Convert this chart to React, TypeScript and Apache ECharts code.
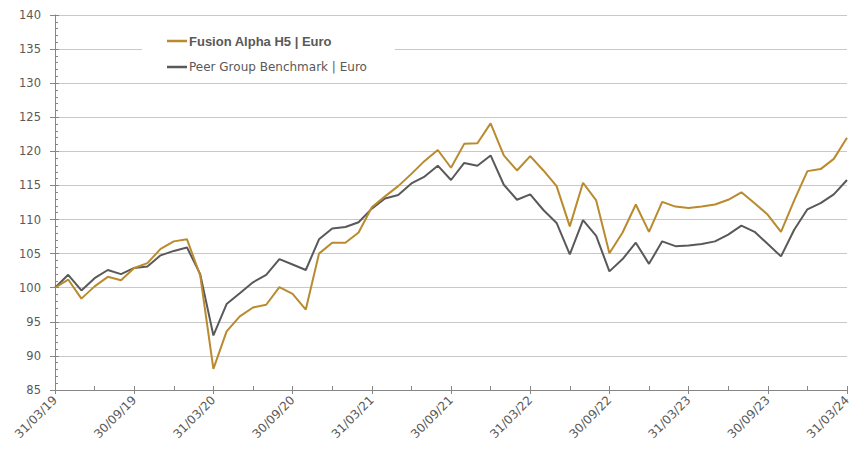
import React, { useEffect, useRef } from "react";
import * as echarts from "echarts";

// Month-end dates 31/03/19 .. 31/03/24
const startYear = 2019;
const startMonth = 2; // March (0-based)
const dates: string[] = [];
for (let k = 0; k <= 60; k++) {
  const y = startYear + Math.floor((startMonth + k) / 12);
  const m = (startMonth + k) % 12;
  const last = new Date(Date.UTC(y, m + 1, 0)).getUTCDate();
  dates.push(
    String(last).padStart(2, "0") + "/" + String(m + 1).padStart(2, "0") + "/" + String(y % 100).padStart(2, "0")
  );
}

const fusionName = "Fusion Alpha H5 | Euro";
const peerName = "Peer Group Benchmark | Euro";

const fusion: number[] = [
  100.0, 101.2, 98.4, 100.2, 101.6, 101.1, 102.9, 103.6, 105.7, 106.8, 107.1, 101.8,
  88.1, 93.6, 95.8, 97.1, 97.5, 100.1, 99.1, 96.8, 105.0, 106.6, 106.6, 108.1,
  111.8, 113.4, 114.9, 116.7, 118.6, 120.2, 117.6, 121.1, 121.2, 124.1, 119.4, 117.2,
  119.3, 117.2, 114.9, 109.0, 115.4, 112.8, 105.05, 108.1, 112.2, 108.2, 112.6, 111.9,
  111.7, 111.9, 112.2, 112.9, 114.0, 112.4, 110.7, 108.2, 112.8, 117.1, 117.4, 118.9, 122.0,
];

const peer: number[] = [
  100.0, 101.9, 99.6, 101.4, 102.6, 102.0, 102.9, 103.1, 104.75, 105.4, 105.9, 102.0,
  93.0, 97.6, 99.2, 100.8, 101.9, 104.2, 103.4, 102.6, 107.1, 108.7, 108.9, 109.6,
  111.6, 113.1, 113.6, 115.3, 116.3, 117.9, 115.8, 118.3, 117.9, 119.4, 115.1, 112.9,
  113.7, 111.4, 109.5, 104.9, 109.9, 107.6, 102.4, 104.2, 106.6, 103.5, 106.8, 106.1,
  106.2, 106.4, 106.8, 107.8, 109.1, 108.2, 106.4, 104.6, 108.5, 111.5, 112.4, 113.7, 115.8,
];

const yMin = 85;
const yMax = 140;
const yStep = 5;

const FONT = "'DejaVu Sans', sans-serif";
const BOLDFONT = "'Liberation Sans', Arial, sans-serif";
const TEXT = "#595959";
const AXIS = "#868686";
const GRIDC = "#c8c8c8";
const GOLD = "#B98A2E";
const GREY = "#595959";

export default function App() {
  const ref = useRef<HTMLDivElement>(null);
  useEffect(() => {
    if (!ref.current) return;
    const chart = echarts.init(ref.current, null, { renderer: "svg" });
    chart.setOption({
      animation: false,
      backgroundColor: "#ffffff",
      grid: { left: 55, right: 14, top: 15, bottom: 60, containLabel: false },
      legend: {
        orient: "vertical",
        left: 142,
        top: 28,
        backgroundColor: "#ffffff",
        padding: [5, 28, 5, 25],
        itemGap: 10,
        itemWidth: 20,
        itemHeight: 2.5,
        icon: "rect",
        textStyle: { fontFamily: FONT, fontSize: 12, color: TEXT, lineHeight: 16, padding: [0, 0, 0, -3] },
        data: [
          { name: fusionName, textStyle: { fontWeight: "bold", fontFamily: BOLDFONT, fontSize: 13 } },
          { name: peerName },
        ],
      },
      xAxis: [
        {
          type: "category",
          data: dates,
          boundaryGap: false,
          axisLine: { show: true, lineStyle: { color: AXIS, width: 1 } },
          axisTick: {
            show: true,
            inside: false,
            length: 4,
            interval: (i: number) => i % 6 === 0,
            lineStyle: { color: AXIS },
          },
          axisLabel: {
            interval: 5,
            rotate: 45,
            margin: 8,
            fontFamily: FONT,
            fontSize: 12,
            color: TEXT,
          },
          splitLine: { show: false },
        },
        {
          type: "category",
          data: dates,
          boundaryGap: false,
          position: "bottom",
          axisLine: { show: false },
          axisTick: {
            show: true,
            inside: true,
            length: 4,
            interval: (i: number) => i % 3 === 0,
            lineStyle: { color: AXIS },
          },
          axisLabel: { show: false },
          splitLine: { show: false },
        },
      ],
      yAxis: [
        {
          type: "value",
          min: yMin,
          max: yMax,
          interval: yStep,
          axisLine: { show: true, lineStyle: { color: AXIS, width: 1 } },
          axisTick: { show: true, inside: true, length: 4, lineStyle: { color: AXIS } },
          minorTick: { show: true, splitNumber: 5, length: 3, lineStyle: { color: AXIS } },
          axisLabel: { margin: 14, fontFamily: FONT, fontSize: 11.5, color: TEXT },
          splitLine: { show: true, lineStyle: { color: GRIDC, width: 1 } },
        },
        {
          type: "value",
          min: yMin,
          max: yMax,
          interval: yStep,
          position: "left",
          axisLine: { show: false },
          axisTick: { show: true, inside: false, length: 5, lineStyle: { color: AXIS } },
          axisLabel: { show: false },
          splitLine: { show: false },
        },
      ],
      series: [
        {
          name: peerName,
          type: "line",
          data: peer,
          xAxisIndex: 0,
          yAxisIndex: 0,
          showSymbol: false,
          symbol: "none",
          lineStyle: { color: GREY, width: 2 },
          itemStyle: { color: GREY },
          z: 2,
        },
        {
          name: fusionName,
          type: "line",
          data: fusion,
          xAxisIndex: 0,
          yAxisIndex: 0,
          showSymbol: false,
          symbol: "none",
          lineStyle: { color: GOLD, width: 2 },
          itemStyle: { color: GOLD },
          z: 3,
        },
      ],
    });
    return () => chart.dispose();
  }, []);
  return <div ref={ref} style={{ width: 861, height: 450, position: "absolute", left: 0, top: 0 }} />;
}
